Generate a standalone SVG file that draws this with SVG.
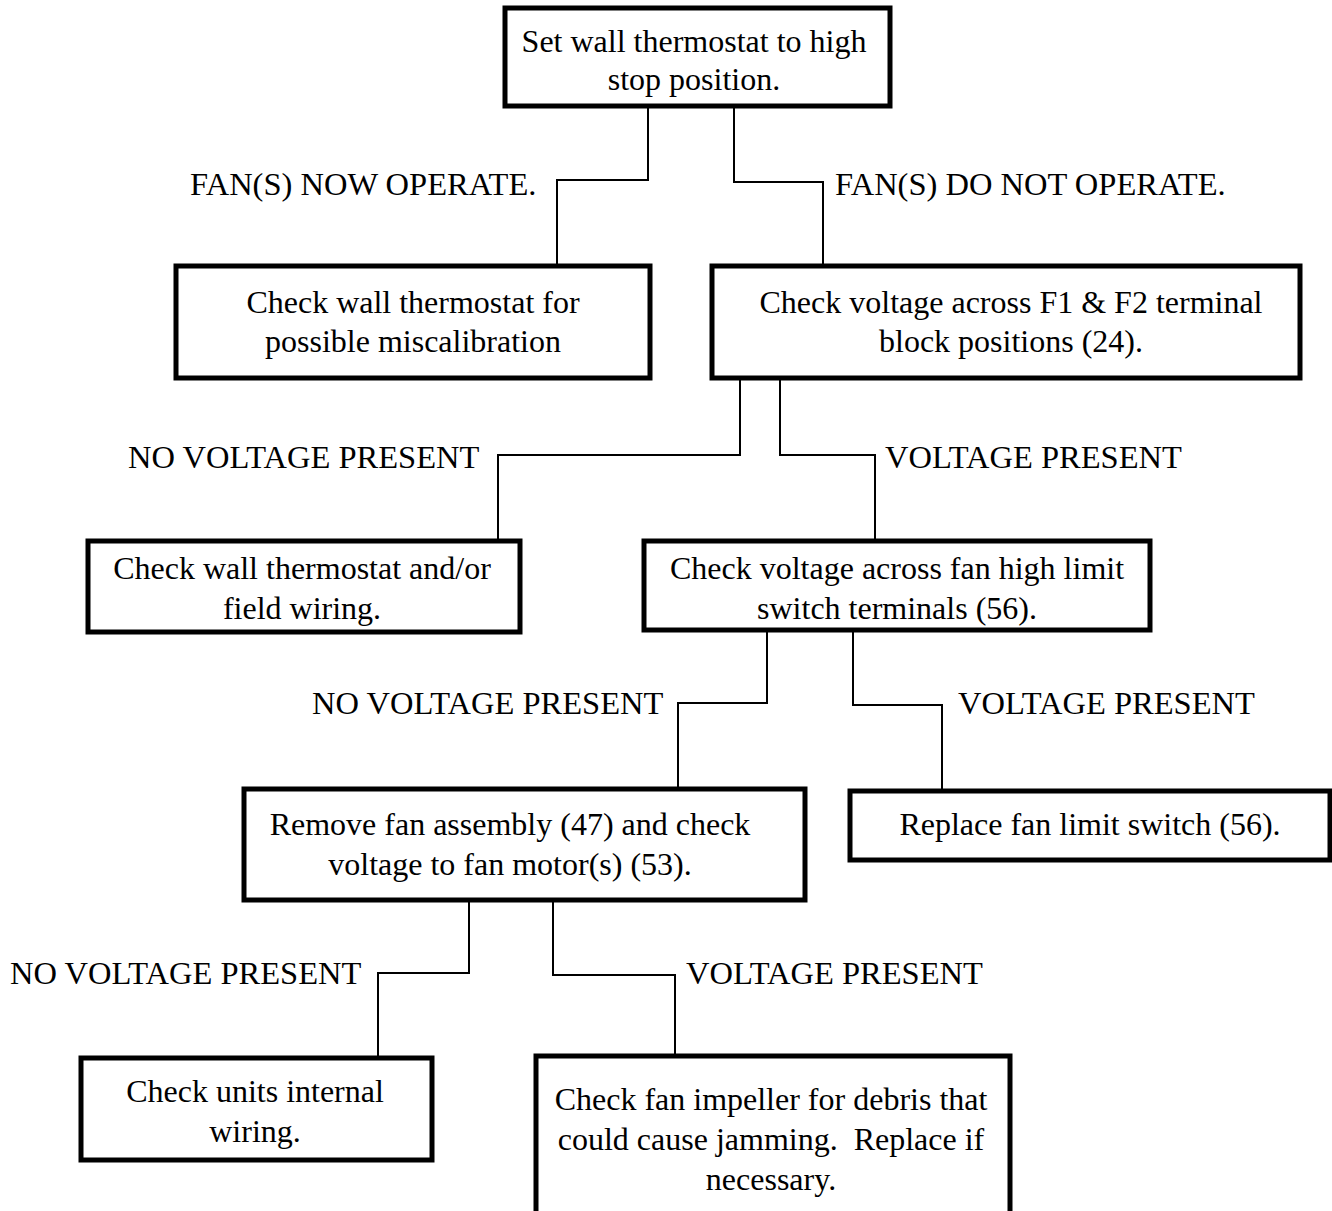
<svg xmlns="http://www.w3.org/2000/svg" width="1332" height="1211" viewBox="0 0 1332 1211">
<style>
.box{fill:#fff;stroke:#000;stroke-width:5}
.t{font-family:"Liberation Serif","Times New Roman",serif;font-size:32px;fill:#000;text-anchor:middle}
.l{font-family:"Liberation Serif","Times New Roman",serif;font-size:32.5px;fill:#000}
.c{fill:none;stroke:#000;stroke-width:2}
</style>
<rect width="1332" height="1211" fill="#fff"/>
<g id="connectors">
<polyline class="c" points="648,106 648,180 557,180 557,265"/>
<polyline class="c" points="734,106 734,182 823,182 823,265"/>
<polyline class="c" points="740,378 740,455 498,455 498,540"/>
<polyline class="c" points="780,378 780,455 875,455 875,540"/>
<polyline class="c" points="767,630 767,703 678,703 678,788"/>
<polyline class="c" points="853,630 853,705 942,705 942,790"/>
<polyline class="c" points="469,900 469,973 378,973 378,1057"/>
<polyline class="c" points="553,900 553,975 675,975 675,1055"/>
<text class="l" x="190" y="195">FAN(S) NOW OPERATE.</text>
<text class="l" x="835" y="195">FAN(S) DO NOT OPERATE.</text>
<text class="l" x="128" y="468">NO VOLTAGE PRESENT</text>
<text class="l" x="885" y="468">VOLTAGE PRESENT</text>
<text class="l" x="312" y="714">NO VOLTAGE PRESENT</text>
<text class="l" x="958" y="714">VOLTAGE PRESENT</text>
<text class="l" x="10" y="984">NO VOLTAGE PRESENT</text>
<text class="l" x="686" y="984">VOLTAGE PRESENT</text>
</g>
<g id="n1">
<rect class="box" x="505" y="8" width="385" height="98"/>
<text class="t" x="694" y="52">Set wall thermostat to high</text>
<text class="t" x="694" y="90">stop position.</text>
</g>
<g id="n2">
<rect class="box" x="176" y="266" width="474" height="112"/>
<text class="t" x="413" y="313">Check wall thermostat for</text>
<text class="t" x="413" y="352">possible miscalibration</text>
</g>
<g id="n3">
<rect class="box" x="712" y="266" width="588" height="112"/>
<text class="t" x="1011" y="313">Check voltage across F1 &amp; F2 terminal</text>
<text class="t" x="1011" y="352">block positions (24).</text>
</g>
<g id="n4">
<rect class="box" x="88" y="541" width="432" height="91"/>
<text class="t" x="302" y="579">Check wall thermostat and/or</text>
<text class="t" x="302" y="619">field wiring.</text>
</g>
<g id="n5">
<rect class="box" x="644" y="541" width="506" height="89"/>
<text class="t" x="897" y="579">Check voltage across fan high limit</text>
<text class="t" x="897" y="619">switch terminals (56).</text>
</g>
<g id="n6">
<rect class="box" x="244" y="789" width="561" height="111"/>
<text class="t" x="510" y="835">Remove fan assembly (47) and check</text>
<text class="t" x="510" y="875">voltage to fan motor(s) (53).</text>
</g>
<g id="n7">
<rect class="box" x="850" y="791" width="480" height="69"/>
<text class="t" x="1090" y="835">Replace fan limit switch (56).</text>
</g>
<g id="n8">
<rect class="box" x="81" y="1058" width="351" height="102"/>
<text class="t" x="255" y="1102">Check units internal</text>
<text class="t" x="255" y="1142">wiring.</text>
</g>
<g id="n9">
<rect class="box" x="536" y="1056" width="474" height="170"/>
<text class="t" x="771" y="1110">Check fan impeller for debris that</text>
<text class="t" x="771" y="1150" xml:space="preserve">could cause jamming.  Replace if</text>
<text class="t" x="771" y="1190">necessary.</text>
</g>
</svg>
